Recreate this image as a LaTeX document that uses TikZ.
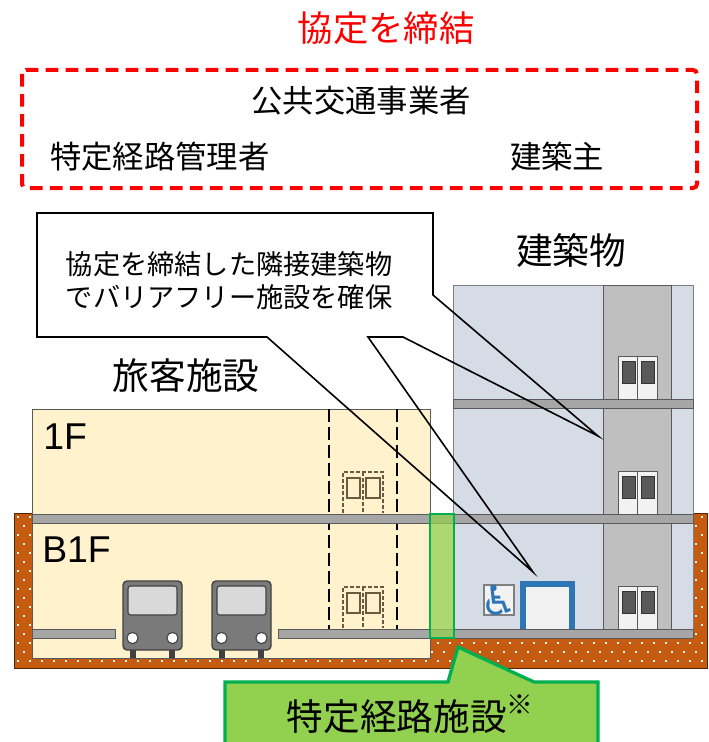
\documentclass[tikz,border=0pt]{standalone}
\usepackage{fontspec}
\setmainfont{Liberation Sans}
\newfontfamily\jp{Noto Sans CJK JP}
\newfontfamily\wcfont{DejaVu Sans}
\usepackage{tikz}

\definecolor{soil}{HTML}{C55A11}
\definecolor{cream}{HTML}{FFF2CC}
\definecolor{bldg}{HTML}{D6DCE5}
\definecolor{core}{HTML}{BFBFBF}
\definecolor{slabgray}{HTML}{A6A6A6}
\definecolor{darkgray}{HTML}{595959}
\definecolor{lime}{HTML}{92D050}
\definecolor{leaf}{HTML}{00B050}
\definecolor{bfblue}{HTML}{2E75B6}
\definecolor{doorgray}{HTML}{F2F2F2}
\definecolor{ghost}{HTML}{6B5A40}

\tikzstyle{slab} = [fill=slabgray, draw=darkgray, line width=0.5pt]
\tikzstyle{liftdoor} = [fill=doorgray, draw=darkgray, line width=0.7pt]
\tikzstyle{liftwin} = [fill=darkgray, draw=black!80, line width=0.5pt]
\tikzstyle{ghostdoor} = [draw=ghost, line width=1pt, dash pattern=on 3pt off 1.5pt]

\begin{document}
\begin{tikzpicture}[
    x=0.75pt, y=-0.75pt,
    every node/.style={inner sep=0pt},
    head/.style={font=\jp\fontsize{27.5}{32}\selectfont},
    party/.style={font=\jp\fontsize{23.5}{28}\selectfont},
    floorlabel/.style={font=\fontsize{28}{32}\selectfont, anchor=base west},
    balloon/.style={draw=black, line width=1.2pt, line join=miter}
]
\useasboundingbox (0,0) rectangle (709,742);

% Agreement
\node[head, red, font=\jp\fontsize{26.5}{30}\selectfont] (agree) at (386,28) {協定を締結};
\draw[red, line width=3pt, dash pattern=on 9.5pt off 5.5pt, rounded corners=3pt]
    (22,70) rectangle (697,188);
\node[party] (operator) at (361,101) {公共交通事業者};
\node[party, anchor=west] (manager) at (50,157) {特定経路管理者};
\node[party] (owner) at (557,157) {建築主};

% Ground with dots
\fill[soil] (14,513) rectangle (707,668);
\begin{scope}
\clip (14,513) rectangle (707,668);
\foreach \r in {0,...,16} {
    \pgfmathsetmacro\dy{516+9*\r}
    \pgfmathsetmacro\dx{17+6*mod(\r,2)}
    \foreach \c in {0,...,57}
        \fill[white!92!soil] (\dx+12*\c,\dy) rectangle ++(2,2);
}
\end{scope}
\draw[black!60!soil, line width=0.5pt] (14,513) rectangle (707,668);

% Speech balloon (fill only, outline later)
\fill[white] (37,213) -- (433,213) -- (433,295) -- (598,436) -- (403,337) -- (368,337)
    -- (533,572) -- (267,337) -- (37,337) -- cycle;

% Station
\draw[fill=cream, draw=darkgray, line width=0.6pt] (32,409) rectangle (430,658);
\fill[cream] (430,514) rectangle (454,638);
\draw[black, line width=1.3pt, dash pattern=on 9.75pt off 3.75pt] (329,409) -- (329,629);
\draw[black, line width=1.3pt, dash pattern=on 9.75pt off 3.75pt] (397,409) -- (397,629);
\foreach \fy in {513,628} {
    \draw[ghostdoor] (343,\fy) -- (343,\fy-41) -- (383,\fy-41) -- (383,\fy);
    \draw[ghostdoor] (363,\fy-41) -- (363,\fy);
    \draw[draw=ghost, line width=1pt] (347,\fy-35) rectangle (360,\fy-15);
    \draw[draw=ghost, line width=1pt] (366,\fy-35) rectangle (380,\fy-15);
}

% Building
\draw[fill=bldg, draw=gray, line width=0.6pt] (453,285) rectangle (693,638);
\draw[fill=core, draw=darkgray, line width=0.6pt] (603,285) rectangle (671,629);
\foreach \fy in {399,514,629} {
    \draw[liftdoor] (618,\fy) rectangle (657,\fy-43);
    \draw[darkgray, line width=0.7pt] (637.5,\fy) -- (637.5,\fy-43);
    \draw[liftwin] (622,\fy-38) rectangle (635,\fy-16);
    \draw[liftwin] (641,\fy-38) rectangle (654,\fy-16);
}

% Slabs and platforms
\draw[slab] (453,399) rectangle (693,408);
\draw[slab] (32,514) rectangle (693,523);
\draw[slab] (32,629) rectangle (115,638);
\draw[slab] (278,629) rectangle (693,638);

% Trains
\foreach \tx in {123,212} {
    \fill[black!75] (\tx+7,649) rectangle ++(6,9);
    \fill[black!75] (\tx+46,649) rectangle ++(6,9);
    \draw[fill=black!52, draw=black!75, line width=1pt, rounded corners=3pt] (\tx,581) rectangle ++(59,69);
    \draw[fill=black!15, draw=black!75, line width=0.8pt, rounded corners=2pt] (\tx+5,586) rectangle ++(49,29);
    \draw[fill=white, draw=black!75, line width=0.8pt] (\tx+9.5,638) circle[radius=4.2pt];
    \draw[fill=white, draw=black!75, line width=0.8pt] (\tx+49.5,638) circle[radius=4.2pt];
}

% Accessible toilet
\fill[bfblue] (520,581) rectangle (575,629);
\fill[doorgray] (526,587) rectangle (569,629);
\draw[fill=doorgray, draw=gray, line width=0.8pt] (484,585) rectangle (514,615);
\node[font=\wcfont\fontsize{31}{31}\selectfont, text=bfblue] (wheel) at (499,600) {♿};

% Route facility
\draw[fill=lime, fill opacity=0.75, draw=leaf, line width=1pt] (430,514) rectangle (454,638);

% Balloon outline
\draw[balloon] (37,213) -- (433,213) -- (433,295) -- (598,436) -- (403,337) -- (368,337)
    -- (533,572) -- (267,337) -- (37,337) -- cycle;
\node[font=\jp\fontsize{20.4}{24.75}\selectfont, align=center] (note) at (229,280.5)
    {協定を締結した隣接建築物\\でバリアフリー施設を確保};

% Labels
\node[head] (building) at (571,251) {建築物};
\node[head] (station) at (186,376) {旅客施設};
\node[floorlabel] (f1) at (43,449) {1F};
\node[floorlabel] (b1) at (42,562) {B1F};

% Route balloon
\draw[fill=lime, draw=leaf, line width=2.5pt, line join=miter]
    (225,750) -- (225,682) -- (448,682) -- (458,647) -- (534,682) -- (598,682) -- (598,750) -- cycle;
\node[head] (route) at (410,714)
    {特定経路施設\raisebox{0.45em}{\fontsize{20}{20}\selectfont ※}};

\end{tikzpicture}
\end{document}
